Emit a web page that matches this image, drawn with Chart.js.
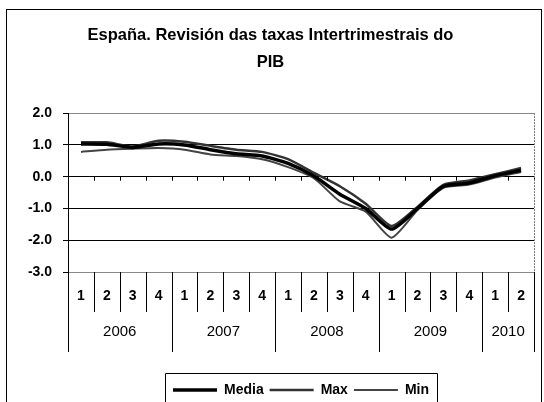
<!DOCTYPE html>
<html>
<head>
<meta charset="utf-8">
<script src="https://cdn.jsdelivr.net/npm/chart.js@4"></script>
<style>
    html, body { margin: 0; padding: 0; background: #fff; overflow: hidden; }
    #frame { position: absolute; left: 6px; top: 9px; width: 534px; height: 400px; border: 1px solid #000; }
    #chart { display: block; }
</style>
</head>
<body>
<div id="frame"><canvas id="chart" width="534" height="400"></canvas></div>
<script>
// --- datos ---
const quarters = ['1','2','3','4','1','2','3','4','1','2','3','4','1','2','3','4','1','2'];
const years = ['2006', '2007', '2008', '2009', '2010'];
const yearSpan = [4, 4, 4, 4, 2];
const yTicks = [2, 1, 0, -1, -2, -3];

const media = [1.03, 1.02, 0.92, 1.03, 1.0, 0.85, 0.72, 0.65, 0.42, 0.02, -0.55, -1.0, -1.65, -1.0, -0.3, -0.2, 0.03, 0.2];
const maxS  = [1.08, 1.08, 0.95, 1.13, 1.1, 0.97, 0.85, 0.78, 0.55, 0.12, -0.3, -0.85, -1.55, -0.95, -0.26, -0.12, 0.08, 0.27];
const minS  = [0.78, 0.85, 0.88, 0.9, 0.85, 0.7, 0.65, 0.55, 0.3, -0.05, -0.78, -1.1, -1.92, -1.05, -0.35, -0.25, -0.03, 0.15];

const FONT = 'Arial, "Liberation Sans", sans-serif';

// --- decoraciones del eje de categorías y marco de la leyenda ---
const axisTable = {
    id: 'axisTable',
    afterDraw(chart) {
        const ctx = chart.ctx;
        const x = chart.scales.x;
        const y = chart.scales.y;
        const area = chart.chartArea;
        const step = x.getPixelForValue(1) - x.getPixelForValue(0);
        const bound = i => x.getPixelForValue(i) - step / 2;
        const y0 = y.getPixelForValue(0);
        const rowBottom = area.bottom + 40;
        const yearBottom = area.bottom + 80;

        ctx.save();
        ctx.strokeStyle = '#000';
        ctx.lineWidth = 1;

        // separadores de trimestres y años
        const yearStarts = [0];
        yearSpan.forEach((n, k) => yearStarts.push(yearStarts[k] + n));
        for (let i = 0; i <= quarters.length; i++) {
            const px = Math.round(bound(i)) + 0.5;
            ctx.beginPath();
            ctx.moveTo(px, area.bottom);
            ctx.lineTo(px, yearStarts.includes(i) ? yearBottom : rowBottom);
            ctx.stroke();
            // marcas sobre la línea de cero
            ctx.beginPath();
            ctx.moveTo(px, y0);
            ctx.lineTo(px, y0 + 4);
            ctx.stroke();
        }

        // etiquetas de año
        ctx.fillStyle = '#000';
        ctx.font = '15px ' + FONT;
        ctx.textAlign = 'center';
        ctx.textBaseline = 'middle';
        years.forEach((yr, k) => {
            const cx = (bound(yearStarts[k]) + bound(yearStarts[k + 1])) / 2;
            ctx.fillText(yr, cx, area.bottom + 60);
        });

        // borde derecho del área de trazado
        ctx.strokeStyle = '#777';
        ctx.setLineDash([2, 1]);
        ctx.beginPath();
        ctx.moveTo(Math.round(area.right) + 0.5, area.top);
        ctx.lineTo(Math.round(area.right) + 0.5, area.bottom);
        ctx.stroke();
        ctx.setLineDash([]);

        // marco de la leyenda
        const boxes = chart.legend.legendHitBoxes;
        if (boxes && boxes.length) {
            const l = Math.min(...boxes.map(b => b.left)) - 8;
            const r = Math.max(...boxes.map(b => b.left + b.width)) + 8;
            const t = Math.min(...boxes.map(b => b.top)) - 10;
            ctx.strokeStyle = '#000';
            ctx.beginPath();
            ctx.moveTo(Math.round(l) + 0.5, chart.height + 5);
            ctx.lineTo(Math.round(l) + 0.5, Math.round(t) + 0.5);
            ctx.lineTo(Math.round(r) + 0.5, Math.round(t) + 0.5);
            ctx.lineTo(Math.round(r) + 0.5, chart.height + 5);
            ctx.stroke();
        }
        ctx.restore();
    }
};

const ctx = document.getElementById('chart').getContext('2d');
new Chart(ctx, {
    type: 'line',
    data: {
        labels: quarters,
        datasets: [
            { label: 'Media', data: media, borderColor: '#000', backgroundColor: '#000', borderWidth: 3.5, order: 1 },
            { label: 'Max', data: maxS, borderColor: '#333', backgroundColor: '#333', borderWidth: 2.5, order: 2 },
            { label: 'Min', data: minS, borderColor: '#444', backgroundColor: '#444', borderWidth: 2, order: 3 }
        ]
    },
    options: {
        responsive: false,
        animation: false,
        tension: 0.2,
        pointRadius: 0,
        pointHoverRadius: 0,
        layout: { padding: { left: 0, right: 7, top: 0, bottom: 3 } },
        scales: {
            y: {
                min: -3,
                max: 2,
                afterBuildTicks: s => { s.ticks = yTicks.map(v => ({ value: v })); },
                afterFit: s => { s.width = 61; },
                grid: {
                    color: c => (c.tick && (c.tick.value === 2 || c.tick.value === -3)) ? '#888' : '#000',
                    tickColor: '#000',
                    tickLength: 5,
                    lineWidth: 1
                },
                border: { color: '#000', width: 1 },
                ticks: {
                    padding: 11,
                    color: '#000',
                    font: { family: FONT, size: 14, weight: 'bold' },
                    callback: v => v.toFixed(1)
                }
            },
            x: {
                offset: true,
                afterFit: s => { s.height = 105; },
                grid: { display: false },
                border: { display: false },
                ticks: {
                    padding: 8,
                    color: '#000',
                    maxRotation: 0,
                    autoSkip: false,
                    font: { family: FONT, size: 14, weight: 'bold' }
                }
            }
        },
        plugins: {
            title: {
                display: true,
                text: ['España. Revisión das taxas Intertrimestrais do', 'PIB'],
                color: '#000',
                font: { family: FONT, size: 16.5, weight: 'bold', lineHeight: 1.64 },
                padding: { top: 12, bottom: 37 }
            },
            legend: {
                position: 'bottom',
                fullSize: false,
                labels: {
                    usePointStyle: true,
                    pointStyle: 'line',
                    pointStyleWidth: 44,
                    boxHeight: 14,
                    padding: 6,
                    color: '#000',
                    font: { family: FONT, size: 14, weight: 'bold' }
                }
            },
            tooltip: { enabled: false }
        }
    },
    plugins: [axisTable]
});
</script>
</body>
</html>
